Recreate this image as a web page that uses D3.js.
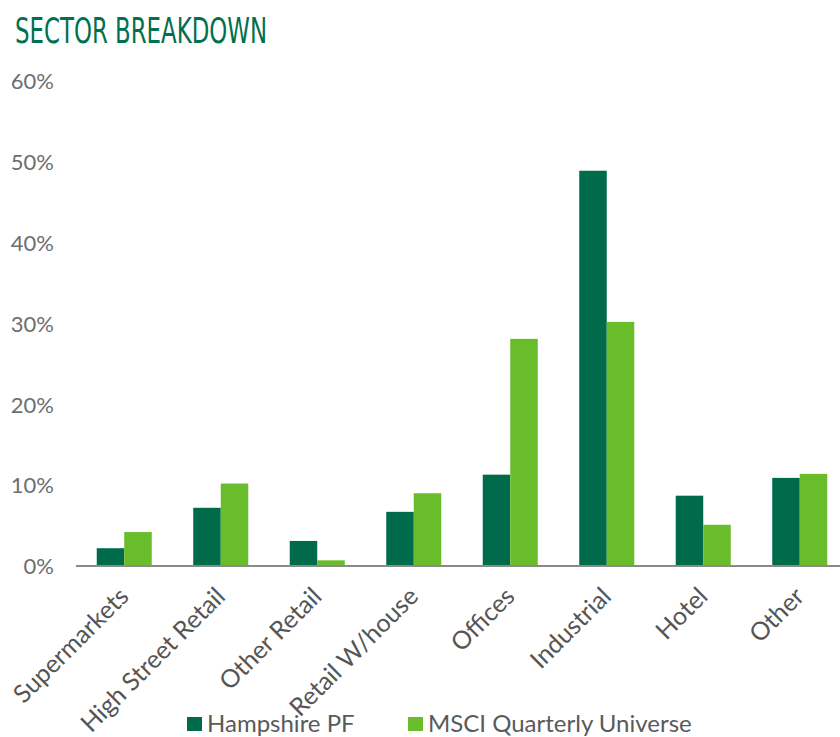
<!DOCTYPE html>
<html>
<head>
<meta charset="utf-8" />
<style>
  body { margin: 0; background: #fff; }
  .tick text { font-family: Lato, "Open Sans", sans-serif; fill: #6e6e6e; }
</style>
</head>
<body>
<div id="chart"></div>
<script src="https://cdn.jsdelivr.net/npm/d3@7"></script>
<script>
var categories = ["Supermarkets", "High Street Retail", "Other Retail", "Retail W/house",
                  "Offices", "Industrial", "Hotel", "Other"];
var seriesNames = ["Hampshire PF", "MSCI Quarterly Universe"];
var hampshire = [2.2, 7.2, 3.1, 6.7, 11.3, 48.9, 8.7, 10.9];
var msci = [4.2, 10.2, 0.7, 9.0, 28.1, 30.2, 5.1, 11.4];
var yTicks = [0, 10, 20, 30, 40, 50, 60];

var colors = ["#006b4a", "#6abd2a"];
var width = 840, height = 737;

var svg = d3.select('#chart')
  .append('svg')
  .attr('width', width)
  .attr('height', height);

svg.append('text')
  .attr('x', 15)
  .attr('y', 43)
  .attr('textLength', 252)
  .attr('lengthAdjust', 'spacingAndGlyphs')
  .style('font-family', '"Liberation Sans Narrow", "DejaVu Sans Condensed", sans-serif')
  .style('font-size', '36px')
  .style('fill', '#00704e')
  .text('SECTOR BREAKDOWN');

var x = d3.scaleBand()
  .domain(categories)
  .range([76, 848])
  .paddingInner(0.43)
  .paddingOuter(0.215);

var xSub = d3.scaleBand()
  .domain(seriesNames)
  .range([0, x.bandwidth()]);

var y = d3.scaleLinear()
  .domain([0, 60])
  .range([566, 81]);

// y axis labels only
var yAxis = svg.append('g')
  .attr('transform', 'translate(54,0)')
  .call(d3.axisLeft(y).tickValues(yTicks).tickSize(0).tickPadding(0)
    .tickFormat(function(d) { return d + '%'; }));
yAxis.select('.domain').remove();
yAxis.selectAll('text').style('font-size', '22px').attr('dy', '0.35em');

var data = categories.map(function(c, i) {
  return {category: c, values: [hampshire[i], msci[i]]};
});

var groups = svg.selectAll('g.group')
  .data(data)
  .enter()
  .append('g')
  .attr('class', 'group')
  .attr('transform', function(d) { return 'translate(' + x(d.category) + ',0)'; });

groups.selectAll('rect')
  .data(function(d) { return d.values.map(function(v, j) { return {name: seriesNames[j], value: v}; }); })
  .enter()
  .append('rect')
  .attr('x', function(d) { return xSub(d.name); })
  .attr('y', function(d) { return y(d.value); })
  .attr('width', xSub.bandwidth())
  .attr('height', function(d) { return y(0) - y(d.value); })
  .attr('fill', function(d, j) { return colors[j]; });

// x axis
var xAxis = svg.append('g')
  .attr('transform', 'translate(0,' + y(0) + ')')
  .call(d3.axisBottom(x).tickSize(0).tickPadding(0));
xAxis.select('.domain').attr('stroke', '#8a8a8a').attr('stroke-width', 2)
  .attr('d', 'M76,0H840');
xAxis.selectAll('text')
  .style('font-size', '25px')
  .style('fill', '#555')
  .attr('text-anchor', 'end')
  .attr('dy', '0')
  .attr('transform', 'translate(6,32) rotate(-45)');

// legend
var legend = svg.append('g').attr('class', 'legend');
var legendX = [187, 408];
seriesNames.forEach(function(name, i) {
  legend.append('rect')
    .attr('x', legendX[i])
    .attr('y', 717)
    .attr('width', 15)
    .attr('height', 14)
    .attr('fill', colors[i]);
  legend.append('text')
    .attr('x', legendX[i] + 20)
    .attr('y', 732)
    .style('font-family', 'Lato, "Open Sans", sans-serif')
    .style('font-size', '24px')
    .style('fill', '#5a5a5a')
    .text(name);
});
</script>
</body>
</html>
